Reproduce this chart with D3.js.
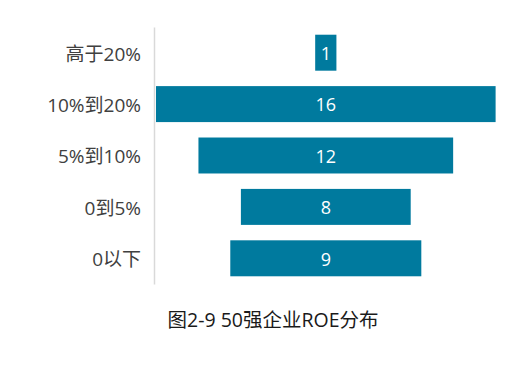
<!DOCTYPE html>
<html>
<head>
<meta charset="utf-8">
<script src="https://cdn.jsdelivr.net/npm/d3@7"></script>
<style>
  body { margin: 0; background: #fff; }
  svg text { font-family: "Open Sans", "Noto Sans CJK SC", sans-serif; }
</style>
</head>
<body>
<div id="the_chart"></div>
<script>
// ROE buckets, top to bottom
let categories = ["高于20%", "10%到20%", "5%到10%", "0到5%", "0以下"];
let counts = [1, 16, 12, 8, 9];
let title = "图2-9 50强企业ROE分布";

let data = categories.map(function (c, i) {
    return { cat: c, value: counts[i] };
});

function gen_vis() {
    var w = 531;
    var h = 372;
    var axis_x = 154;
    var center = 325.8;
    var maxv = d3.max(counts);

    var svg = d3.select("#the_chart").append("svg")
        .attr("width", w)
        .attr("height", h);

    // symmetric scale so each bar is centered on the middle
    var xscale = d3.scaleLinear()
        .domain([-maxv / 2, maxv / 2])
        .range([center - 169.8, center + 169.8]);

    var yscale = d3.scaleBand()
        .domain(categories)
        .range([27, 284])
        .paddingInner(0.3)
        .paddingOuter(0.15);

    svg.selectAll("rect")
        .data(data)
        .enter().append("rect")
        .attr("x", function (d) { return xscale(-d.value / 2); })
        .attr("width", function (d) { return xscale(d.value / 2) - xscale(-d.value / 2); })
        .attr("y", function (d) { return yscale(d.cat); })
        .attr("height", yscale.bandwidth())
        .attr("fill", "#007a9e");

    svg.selectAll("text.val")
        .data(data)
        .enter().append("text")
        .attr("class", "val")
        .attr("x", function (d) { return xscale(0); })
        .attr("y", function (d) { return yscale(d.cat) + yscale.bandwidth() / 2; })
        .attr("dy", "0.4em")
        .attr("text-anchor", "middle")
        .attr("fill", "#ffffff")
        .attr("font-size", "18px")
        .text(function (d) { return d.value; });

    var yaxis = d3.axisLeft(yscale).tickSize(0).tickPadding(13);
    var g = svg.append("g")
        .attr("transform", "translate(" + axis_x + ",0)")
        .call(yaxis);
    g.select(".domain")
        .attr("stroke", "#d9d9d9")
        .attr("stroke-width", 1.5);
    g.selectAll("text")
        .attr("fill", "#404040")
        .attr("font-size", "19px")
        .attr("dy", "0.42em");

    svg.append("text")
        .attr("x", 273)
        .attr("y", 327)
        .attr("text-anchor", "middle")
        .attr("fill", "#1a1a1a")
        .attr("font-size", "19.5px")
        .text(title);
}

gen_vis();
</script>
</body>
</html>
